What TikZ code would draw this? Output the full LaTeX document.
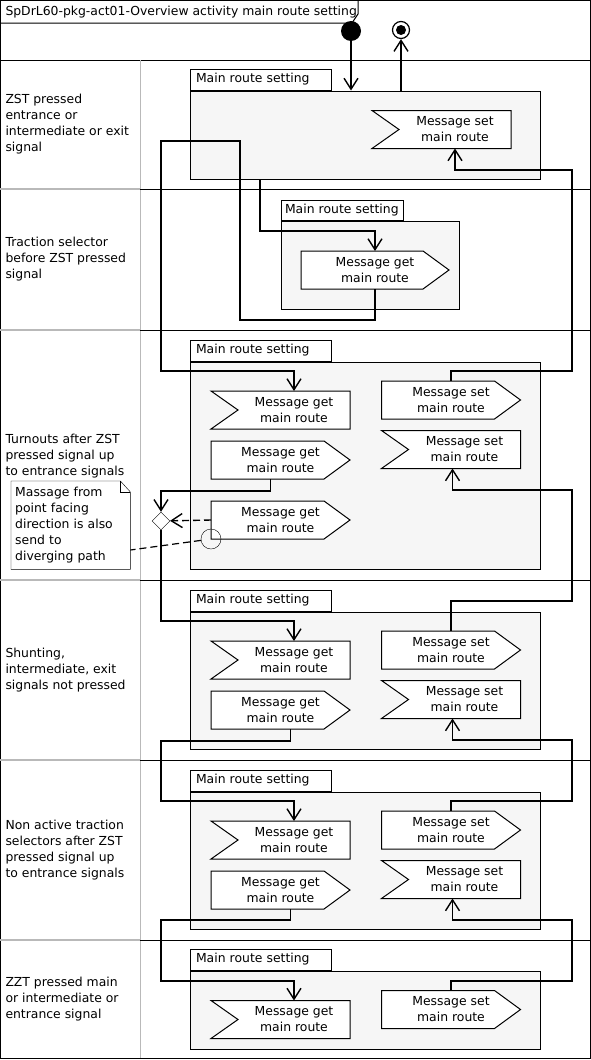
\documentclass[tikz,border=0pt]{standalone}
\usepackage{fontspec}
\setmainfont{DejaVu Sans}
\usetikzlibrary{arrows.meta,shapes.geometric,positioning}
\pgfdeclarelayer{bg}
\pgfdeclarelayer{mid}
\pgfsetlayers{bg,mid,main}

\begin{document}
\begin{tikzpicture}[x=1pt,y=-1pt,line width=1pt,font=\fontsize{12.4}{16}\selectfont]
\tikzstyle{lane}=[draw=gray!55,line width=1pt]
\tikzstyle{actbox}=[draw,line width=1pt,fill=gray!7,minimum width=350,inner sep=0]
\tikzstyle{tab}=[draw,line width=1pt,fill=white,anchor=south west,minimum height=21,text width=129,inner xsep=6,inner ysep=0,align=left]
\tikzstyle{msg}=[minimum height=38,inner sep=0,outer sep=0,align=center]
\tikzstyle{accept}=[msg,minimum width=112]
\tikzstyle{send}=[msg,minimum width=139]
\tikzstyle{outline}=[draw,line width=1pt,fill=white]
\tikzstyle{lanelabel}=[anchor=west,align=left,inner sep=0]
\tikzstyle{flow}=[draw,line width=1.4pt,-{Straight Barb[length=11pt,width=14pt]}]

\useasboundingbox (0,0) rectangle (591,1060);

% frame and lanes
\draw (0.5,0.5) rectangle (590,1058);
\node[anchor=west,inner sep=0] (title) at (5,12) {SpDrL60-pkg-act01-Overview activity main route setting};
\draw (0,23) -- (352,23) -- (358,14) -- (358,0);
\draw (0,60) -- (590,60);
\draw[lane] (140,60) -- (140,1058);
\foreach \y in {189,330,580,760,940} {
  \draw[lane,line width=2pt] (0,\y) -- (140,\y);
  \draw (140,\y) -- (590,\y);
}
\foreach \y/\t in {124.5/{ZST pressed\\entrance or\\intermediate or exit\\signal},
  259.5/{Traction selector\\before ZST pressed\\signal},
  456/{Turnouts after ZST\\pressed signal up\\to entrance signals},
  670/{Shunting,\\intermediate, exit\\signals not pressed},
  850/{Non active traction\\selectors after ZST\\pressed signal up\\to entrance signals},
  999/{ZZT pressed main\\or intermediate or\\entrance signal}}
  \node[lanelabel] at (5,\y) {\t};

% activities
\begin{pgfonlayer}{bg}
\foreach \n/\y/\h in {act1/135/88,act3/465.5/207,act4/680.5/137,act5/860.5/137,act6/1010/78}
  \node[actbox,minimum height=\h] (\n) at (365,\y) {};
\node[actbox,minimum width=178,minimum height=88] (act2) at (370,265) {};
\foreach \n in {act1,act3,act4,act5,act6}
  \node[tab] at (\n.north west) {Main route setting};
\node[tab,text width=114,inner xsep=4,minimum height=20] at (act2.north west) {Main route setting};
\end{pgfonlayer}

% messages
\node[accept] (set1) at (455,129.5) {Message set\\main route};
\node[send,minimum width=148] (get2) at (375,270) {Message get\\main route};
\node[accept] (get3a) at (294,410) {Message get\\main route};
\node[send] (set3a) at (451,400) {Message set\\main route};
\node[send] (get3b) at (280.5,460) {Message get\\main route};
\node[accept] (set3b) at (464.5,449.5) {Message set\\main route};
\node[send] (get3c) at (280.5,520) {Message get\\main route};
\node[accept] (get4a) at (294,660) {Message get\\main route};
\node[send] (set4a) at (451,650) {Message set\\main route};
\node[send] (get4b) at (280.5,710) {Message get\\main route};
\node[accept] (set4b) at (464.5,699.5) {Message set\\main route};
\node[accept] (get5a) at (294,840) {Message get\\main route};
\node[send] (set5a) at (451,830) {Message set\\main route};
\node[send] (get5b) at (280.5,890) {Message get\\main route};
\node[accept] (set5b) at (464.5,879.5) {Message set\\main route};
\node[accept] (get6a) at (294,1019.5) {Message get\\main route};
\node[send] (set6a) at (451,1009.5) {Message set\\main route};

\begin{pgfonlayer}{mid}
\foreach \n in {set1,get3a,set3b,get4a,set4b,get5a,set5b,get6a}
  \path[outline] ([xshift=-27]\n.north west) -- (\n.north east) -- (\n.south east) -- ([xshift=-27]\n.south west) -- (\n.west) -- cycle;
\foreach \n in {get2,set3a,get3b,get3c,set4a,get4b,set5a,get5b,set6a}
  \path[outline] (\n.north west) -- ([xshift=-26]\n.north east) -- (\n.east) -- ([xshift=-26]\n.south east) -- (\n.south west) -- cycle;
\end{pgfonlayer}

% start, end, decision, note
\node[circle,fill,minimum size=20,inner sep=0] (start) at (351,31) {};
\node[circle,draw,line width=1.2pt,minimum size=17,inner sep=0,
  path picture={\fill (path picture bounding box.center) circle (5);}] (final) at (401,30) {};
\node[diamond,draw,fill=white,minimum size=18,inner sep=0,aspect=1] (dec) at (161,521) {};
\node[circle,draw,minimum size=20,inner sep=0] (pin) at (get3c.south west) {};
\node[text width=111,inner xsep=4,inner ysep=0,minimum height=88,align=left,anchor=north west] (note) at (11,481)
  {Massage from\\point facing\\direction is also\\send to\\diverging path};
\draw (note.north west) -- ([xshift=-10]note.north east) -- ([yshift=-11]note.north east) -- (note.south east) -- (note.south west) -- cycle;
\draw ([xshift=-10]note.north east) |- ([yshift=-11]note.north east);

% flows
\draw[flow] (start) -- (start |- act1.north);
\draw[flow] (final |- act1.north) -- (final);
\draw[flow] (260,0 |- act1.south) -- (260,231) -| (get2.north);
\draw[flow] (get2.south) |- (240,320) |- (161,141) -- (161,371) -| (get3a.north);
\draw[flow] (set3a.north) |- (572,371) -- (572,170) -| (set1.south);
\draw[flow] ([xshift=-10]get3b.south) |- (161,491) -- (dec);
\draw[flow] (dec) -- (161,621) -| (get4a.north);
\draw[flow] (set4a.north) |- (572,601) -- (572,490) -| ([xshift=-12]set3b.south);
\draw[flow] ([xshift=10]get4b.south) |- (161,741) -- (161,801) -| (get5a.north);
\draw[flow] (set5a.north) |- (572,801) -- (572,740) -| ([xshift=-12]set4b.south);
\draw[flow] ([xshift=10]get5b.south) |- (161,920) -- (161,981) -| (get6a.north);
\draw[flow] (set6a.north) |- (572,981) -- (572,920) -| ([xshift=-12]set5b.south);
\draw[flow,dash pattern=on 7pt off 4pt] (get3c.west) -- (dec);
\draw[dash pattern=on 7pt off 4pt,line width=1.2pt] (pin) -- (note.east |- 0,550);
\end{tikzpicture}
\end{document}
